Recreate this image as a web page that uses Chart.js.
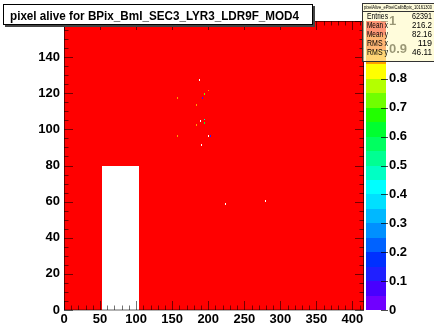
<!DOCTYPE html>
<html>
<head>
<meta charset="utf-8">
<script src="https://cdn.jsdelivr.net/npm/chart.js@4/dist/chart.umd.min.js"></script>
<style>
  body { margin: 0; background: #fff; }
  canvas { display: block; }
</style>
</head>
<body>
<canvas id="c" width="434" height="324"></canvas>
<script>
// ROC boundaries of the module (columns / rows)
const xEdges = [0, 52, 104, 156, 208, 260, 312, 364, 416];
const yEdges = [0, 80, 160];
// fraction of alive pixels per ROC, null = no entries
const rocValues = [
    [1, null, 1, 1, 1, 1, 1, 1],
    [1, 1, 1, 1, 1, 1, 1, 1]
];
// single pixels that differ from their ROC
const pixCol = [187, 199, 194, 191, 156, 183, 194, 189, 194, 183, 157, 199, 203, 190, 223, 279];
const pixRow = [127, 121, 119, 117, 117, 113, 105, 104, 103, 102, 96, 96, 96, 91, 58, 60];
const pixVal = [null, 0.85, 0.7, 0.08, 0.88, 0.88, 0.45, null, 0.6, 0.88, 0.88, null, 0.1, null, null, null];

const statNames = ["Entries", "Mean x", "Mean y", "RMS x", "RMS y"];
const statValues = ["62391", "216.2", "82.16", "119", "46.11"];
const histName = "pixelAlive_ePixelCalibBpix_10161300";
const titleText = "pixel alive for BPix_BmI_SEC3_LYR3_LDR9F_MOD4";

const paletteColors = [
    "#7000ff", "#4800ff", "#2020ff", "#0030ff", "#0062ff",
    "#0090ff", "#00b8ff", "#00e0ff", "#00ffff", "#00ffc4",
    "#00ff92", "#00ff60", "#00ff30", "#22ff00", "#70ff00",
    "#b4ff00", "#ffff00", "#ffa000", "#ff5000", "#ff0000"
];

const FONT = "'Liberation Sans', Arial, sans-serif";

function colorFor(v) {
    let k = Math.floor(v * paletteColors.length);
    if (k >= paletteColors.length) k = paletteColors.length - 1;
    if (k < 0) k = 0;
    return paletteColors[k];
}

function fillCell(ctx, x, y, x0, x1, y0, y1, col) {
    const l = Math.round(x.getPixelForValue(x0)),
        r = Math.round(x.getPixelForValue(x1)),
        t = Math.round(y.getPixelForValue(y1)),
        b = Math.round(y.getPixelForValue(y0));
    ctx.fillStyle = col;
    ctx.fillRect(l, t, Math.max(1, r - l), Math.max(1, b - t));
}

function noPad(s) {
    s.paddingTop = 0; s.paddingBottom = 0;
    s.paddingLeft = 0; s.paddingRight = 0;
}

const heatmap = {
    id: 'heatmap',
    beforeDatasetsDraw(chart) {
        const { ctx, chartArea: a } = chart;
        const { x, y, z } = chart.scales;
        ctx.save();

        rocValues.forEach((row, j) => row.forEach((v, i) => {
            if (v === null) return;
            fillCell(ctx, x, y, xEdges[i], xEdges[i + 1], yEdges[j], yEdges[j + 1], colorFor(v));
        }));
        pixCol.forEach((c, k) => {
            const v = pixVal[k];
            fillCell(ctx, x, y, c, c + 1, pixRow[k], pixRow[k] + 1, v === null ? "#ffffff" : colorFor(v));
        });

        // tick marks on all four sides, pointing inwards
        ctx.strokeStyle = "rgba(0,0,0,0.55)";
        ctx.lineWidth = 1;
        ctx.beginPath();
        for (let v = 0; v <= 416; v += 10) {
            const px = Math.round(x.getPixelForValue(v)) + 0.5;
            const len = v % 50 === 0 ? 9 : 4.5;
            ctx.moveTo(px, a.bottom); ctx.lineTo(px, a.bottom - len);
            ctx.moveTo(px, a.top); ctx.lineTo(px, a.top + len);
        }
        for (let v = 0; v <= 160; v += 5) {
            const py = Math.round(y.getPixelForValue(v)) + 0.5;
            const len = v % 20 === 0 ? 9 : 4.5;
            ctx.moveTo(a.left, py); ctx.lineTo(a.left + len, py);
            ctx.moveTo(a.right, py); ctx.lineTo(a.right - len, py);
        }
        ctx.stroke();
        ctx.strokeStyle = "rgba(0,0,0,0.6)";
        ctx.strokeRect(a.left + 0.5, a.top + 0.5, a.right - a.left - 1, a.bottom - a.top - 0.5);

        // colour palette
        const p0 = a.right + 2, p1 = a.right + 22;
        paletteColors.forEach((col, k) => {
            const t = Math.round(z.getPixelForValue((k + 1) / paletteColors.length)),
                b = Math.round(z.getPixelForValue(k / paletteColors.length));
            ctx.fillStyle = col;
            ctx.fillRect(p0, t, p1 - p0, b - t);
        });
        ctx.strokeStyle = "rgba(0,0,0,0.7)";
        ctx.beginPath();
        for (let k = 0; k <= 10; k++) {
            const py = Math.round(z.getPixelForValue(k / 10)) + 0.5;
            ctx.moveTo(p1 - 5, py); ctx.lineTo(p1 + 2, py);
        }
        ctx.stroke();
        ctx.restore();
    },
    afterDatasetsDraw(chart) {
        const { ctx } = chart;
        ctx.save();
        // stats box
        ctx.fillStyle = "rgba(255,250,195,0.6)";
        ctx.fillRect(362, 3, 72, 58);
        ctx.strokeStyle = "#333";
        ctx.lineWidth = 1;
        ctx.strokeRect(362.5, 3.5, 74, 58);
        ctx.beginPath();
        ctx.moveTo(362, 11.5); ctx.lineTo(434, 11.5);
        ctx.stroke();
        ctx.fillStyle = "#000";
        ctx.textBaseline = "middle";
        ctx.font = "5px " + FONT;
        ctx.textAlign = "left";
        ctx.fillText(histName, 364, 7.5, 68);
        ctx.font = "9px " + FONT;
        statNames.forEach((s, i) => {
            const ty = 17 + i * 9;
            ctx.textAlign = "left";
            ctx.fillText(s, 367, ty, 21);
            ctx.textAlign = "right";
            ctx.fillText(statValues[i], 432, ty, 20);
        });
        ctx.restore();
    },
    afterDraw(chart) {
        const { ctx } = chart;
        ctx.save();
        // title box with shadow
        ctx.fillStyle = "#444";
        ctx.fillRect(5, 6, 310, 21);
        ctx.fillStyle = "#fff";
        ctx.fillRect(3, 4, 310, 21);
        ctx.strokeStyle = "#000";
        ctx.lineWidth = 1;
        ctx.strokeRect(3.5, 4.5, 309, 20);
        ctx.fillStyle = "#000";
        ctx.font = "bold 12.5px " + FONT;
        ctx.textAlign = "left";
        ctx.textBaseline = "alphabetic";
        ctx.fillText(titleText, 10, 19.5, 289);
        ctx.restore();
    }
};

const tickFont = { family: FONT, weight: 'bold', size: 13 };

new Chart(document.getElementById('c'), {
    type: 'scatter',
    data: { datasets: [] },
    options: {
        responsive: false,
        devicePixelRatio: 1,
        animation: false,
        layout: { padding: { top: 21, left: 0, right: 0, bottom: 0 } },
        plugins: { legend: { display: false }, tooltip: { enabled: false } },
        scales: {
            x: {
                type: 'linear', position: 'bottom', min: 0, max: 416,
                afterFit(s) { s.height = 14; noPad(s); },
                grid: { display: false, drawTicks: false },
                border: { display: false },
                ticks: {
                    stepSize: 50, includeBounds: false, padding: 2, color: '#000',
                    font: tickFont, maxRotation: 0, autoSkip: false
                }
            },
            y: {
                type: 'linear', position: 'left', min: 0, max: 160,
                afterFit(s) { s.width = 64; noPad(s); },
                grid: { display: false, drawTicks: false },
                border: { display: false },
                ticks: {
                    stepSize: 20, padding: 4, color: '#000', font: tickFont, autoSkip: false,
                    callback: v => (v === 160 ? '' : v)
                }
            },
            z: {
                type: 'linear', position: 'right', min: 0, max: 1, z: 1,
                afterFit(s) { s.width = 70; noPad(s); },
                grid: { display: false, drawTicks: false },
                border: { display: false },
                ticks: {
                    stepSize: 0.1, padding: 25, color: '#000', font: tickFont, autoSkip: false,
                    callback: v => String(+v.toFixed(1))
                }
            }
        }
    },
    plugins: [heatmap]
});
</script>
</body>
</html>
